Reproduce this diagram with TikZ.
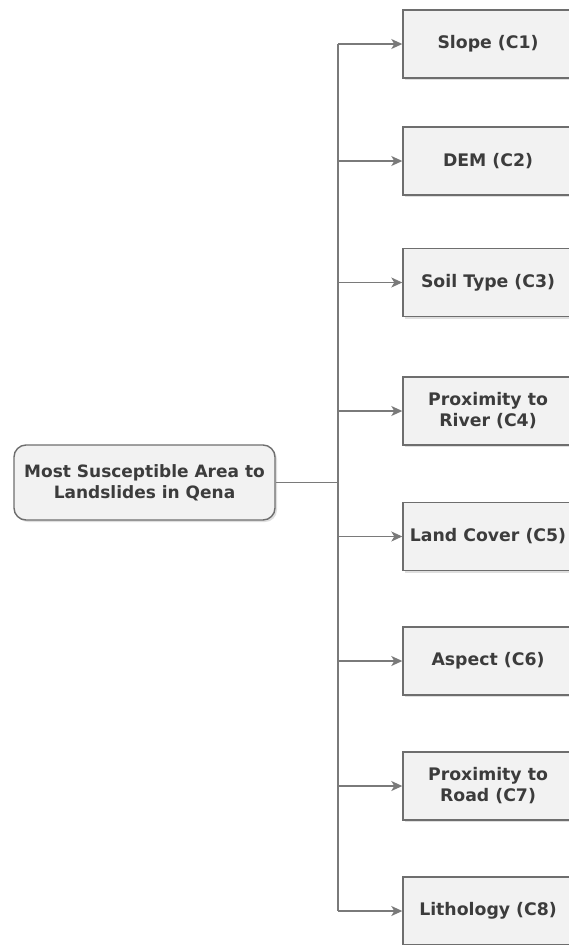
\documentclass[tikz,border=0pt]{standalone}
\usepackage{fontspec}
\setmainfont{DejaVu Sans}
\usepackage{xcolor}
\definecolor{boxfill}{HTML}{F2F2F2}
\definecolor{boxline}{HTML}{6E6E6E}
\definecolor{wire}{HTML}{7A7A7A}
\definecolor{ink}{HTML}{3C3C3C}
\usetikzlibrary{positioning, calc, arrows.meta, shadows}
\tikzset{>={Stealth[length=11pt,width=10pt,inset=3pt]}}
\tikzset{
  crit/.style={draw=boxline, line width=1.4pt, fill=boxfill,
    minimum width=170pt, minimum height=68pt, inner sep=2pt,
    align=center, text=ink, font=\bfseries\fontsize{17.3}{21}\selectfont,
    drop shadow={shadow xshift=2pt, shadow yshift=-2pt, opacity=0.25}},
  goal/.style={crit, rounded corners=12pt, minimum width=261pt,
    minimum height=75pt, font=\bfseries\fontsize{17}{21}\selectfont},
  wire/.style={draw=wire, line width=1.3pt},
  flow/.style={wire, ->}
}

\begin{document}
\begin{tikzpicture}[x=1pt, y=-1pt]
    \useasboundingbox (0,0) rectangle (569,945);
    \clip (0,0) rectangle (569,945);

    \node[goal] (root) at (144.5,482.5) {Most Susceptible Area to\\Landslides in Qena};

    \node[crit] (c1) at (488,44) {Slope (C1)};
    \node[crit] (c2) at (488,161) {DEM (C2)};
    \node[crit] (c3) at (488,282.5) {Soil Type (C3)};
    \node[crit] (c4) at (488,411) {Proximity to\\River (C4)};
    \node[crit] (c5) at (488,536.5) {Land Cover (C5)};
    \node[crit] (c6) at (488,661) {Aspect (C6)};
    \node[crit] (c7) at (488,786) {Proximity to\\Road (C7)};
    \node[crit] (c8) at (488,911) {Lithology (C8)};

    % trunk
    \coordinate (top) at (338,44);
    \coordinate (bot) at (338,911);
    \draw[wire] (top) -- (bot);
    \draw[wire] (root.east) -- (root.east -| top);

    \draw[flow] (top) -- (c1.west);
    \draw[flow] (c2.west -| top) -- (c2.west);
    \draw[flow] (c3.west -| top) -- (c3.west);
    \draw[flow] (c4.west -| top) -- (c4.west);
    \draw[flow] (c5.west -| top) -- (c5.west);
    \draw[flow] (c6.west -| top) -- (c6.west);
    \draw[flow] (c7.west -| top) -- (c7.west);
    \draw[flow] (bot) -- (c8.west);
  \end{tikzpicture}
\end{document}
